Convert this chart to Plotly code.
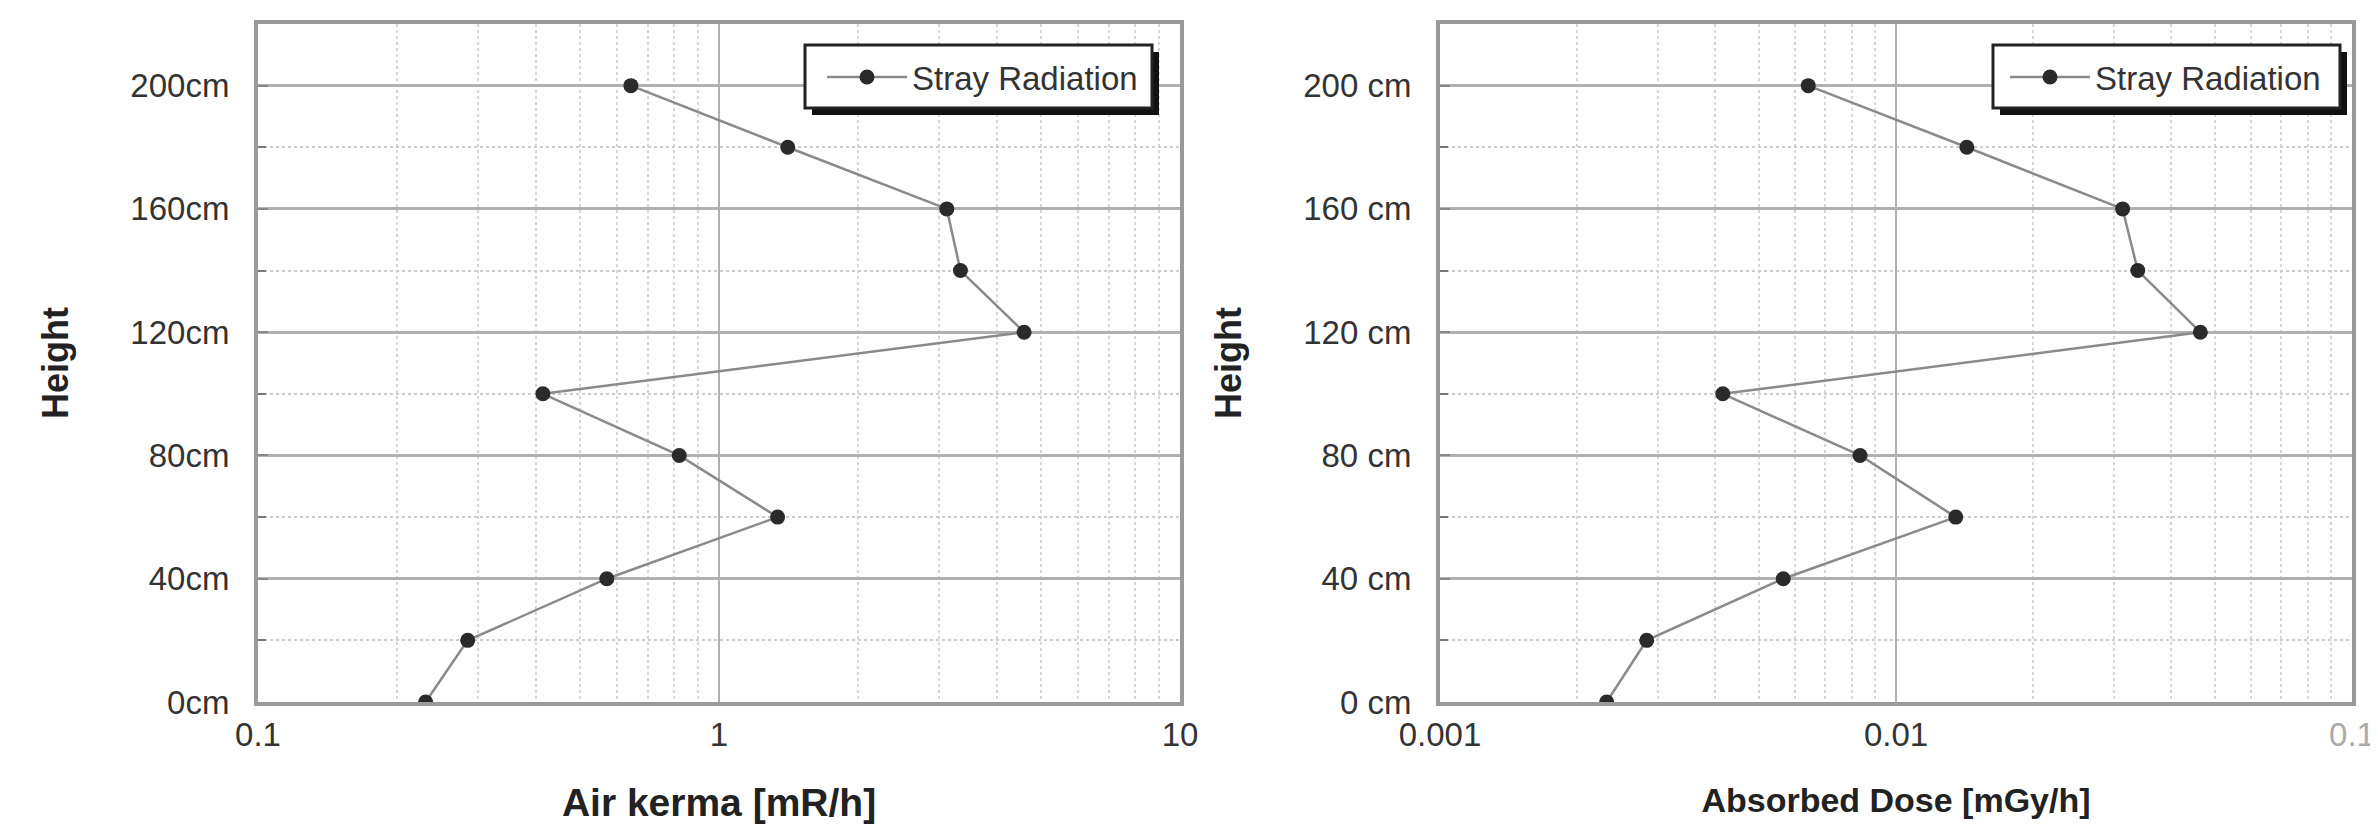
import plotly.graph_objects as go

# Heights of the measuring points (cm)
heights = [0, 20, 40, 60, 80, 100, 120, 140, 160, 180, 200]

# Air kerma rate [mR/h]
air_kerma = [0.231, 0.285, 0.571, 1.34, 0.82, 0.415, 4.59, 3.34, 3.12, 1.41, 0.644]

# Absorbed dose rate [mGy/h]
absorbed_dose = [0.00232, 0.00284, 0.00566, 0.01352, 0.00834, 0.00417,
                 0.0465, 0.0339, 0.0314, 0.0143, 0.00642]

# Tick labels
y_ticks = [0, 40, 80, 120, 160, 200]
y_labels_left = ["0cm", "40cm", "80cm", "120cm", "160cm", "200cm"]
y_labels_right = ["0 cm", "40 cm", "80 cm", "120 cm", "160 cm", "200 cm"]
x_ticks_left = [0.1, 1, 10]
x_labels_left = ["0.1", "1", "10"]
x_ticks_right = [0.001, 0.01, 0.1]
x_labels_right = ["0.001", "0.01", "<span style='color:#aaa'>0.1</span>"]

# the page body adds an 8px margin, so the figure is a bit smaller
OFF = 8
W, H = 2378 - OFF, 839 - OFF
FONT = "Liberation Sans, Arial, sans-serif"


def px(x):
    return (x - OFF) / W


def py(y):
    return 1 - (y - OFF) / H


fig = go.Figure()

fig.add_trace(go.Scatter(
    x=air_kerma, y=heights, mode="lines+markers", name="Stray Radiation",
    line=dict(color="#8a8a8a", width=2.5),
    marker=dict(color="#2a2a2a", size=15),
    xaxis="x", yaxis="y", legend="legend",
))
fig.add_trace(go.Scatter(
    x=absorbed_dose, y=heights, mode="lines+markers", name="Stray Radiation",
    line=dict(color="#8a8a8a", width=2.5),
    marker=dict(color="#2a2a2a", size=15),
    xaxis="x2", yaxis="y2", legend="legend2",
))


def minor_logs(lo, hi):
    vals = []
    d = lo
    while d < hi:
        vals += [d * k for k in range(2, 10)]
        d *= 10
    return vals


def xaxis(domain, ticks, labels, rng, title, tsize, anchor):
    return dict(
        domain=domain, type="log", range=rng, anchor=anchor, automargin=False,
        tickmode="array", tickvals=ticks, ticktext=labels,
        tickfont=dict(family=FONT, size=33, color="#333"),
        showgrid=True, gridcolor="#b0b0b0", gridwidth=2,
        minor=dict(tickvals=minor_logs(ticks[0], ticks[-1]), showgrid=True,
                   gridcolor="#d6d6d6", gridwidth=1.5, griddash="dot"),
        showline=True, linecolor="#9a9a9a", linewidth=4, mirror=True,
        ticks="", ticklabelstandoff=0,
        title=dict(text=title, standoff=38,
                   font=dict(family=FONT, size=tsize, color="#222")),
        zeroline=False,
    )


def yaxis(domain, labels, anchor):
    return dict(
        domain=domain, range=[0, 220], anchor=anchor, automargin=False,
        tickmode="array", tickvals=y_ticks, ticktext=labels,
        tickfont=dict(family=FONT, size=33, color="#333"),
        showgrid=True, gridcolor="#b0b0b0", gridwidth=2.5,
        minor=dict(tickvals=[20, 60, 100, 140, 180], showgrid=True,
                   gridcolor="#cccccc", gridwidth=2, griddash="dot",
                   ticks="inside", ticklen=8, tickcolor="#777", tickwidth=2),
        ticks="inside", ticklen=10, tickcolor="#888", tickwidth=2,
        showline=True, linecolor="#9a9a9a", linewidth=4, mirror=True,
        ticklabelstandoff=18,
        title=dict(text="<b>Height</b>", standoff=52,
                   font=dict(family=FONT, size=36, color="#222")),
        zeroline=False,
    )


y_dom = [py(702), py(24)]

legend_style = dict(xanchor="left", yanchor="middle", xref="paper", yref="paper",
                    bgcolor="rgba(0,0,0,0)", borderwidth=0, itemwidth=80,
                    font=dict(family=FONT, size=33, color="#333"))

fig.update_layout(
    width=W, height=H,
    margin=dict(l=0, r=0, t=0, b=0),
    paper_bgcolor="white", plot_bgcolor="white",
    font=dict(family=FONT, color="#222"),
    showlegend=True,
    xaxis=xaxis([px(258), px(1180)], x_ticks_left, x_labels_left, [-1, 1],
                "<b>Air kerma [mR/h]</b>", 39, "y"),
    yaxis=yaxis(y_dom, y_labels_left, "x"),
    xaxis2=xaxis([px(1440), px(2352)], x_ticks_right, x_labels_right, [-3, -1],
                 "<b>Absorbed Dose [mGy/h]</b>", 34, "y2"),
    yaxis2=yaxis(y_dom, y_labels_right, "x2"),
    legend=dict(x=px(822), y=py(77), **legend_style),
    legend2=dict(x=px(2005), y=py(77), **legend_style),
)

# legend frames with a drop shadow
for x0, x1 in [(805, 1152), (1993, 2340)]:
    fig.add_shape(type="rect", xref="paper", yref="paper",
                  x0=px(x0 + 7), x1=px(x1 + 7), y0=py(115), y1=py(52),
                  fillcolor="#111", line=dict(width=0), layer="above")
    fig.add_shape(type="rect", xref="paper", yref="paper",
                  x0=px(x0), x1=px(x1), y0=py(108), y1=py(45),
                  fillcolor="white", line=dict(color="#222", width=3),
                  layer="above")

fig.write_html("out.html")
